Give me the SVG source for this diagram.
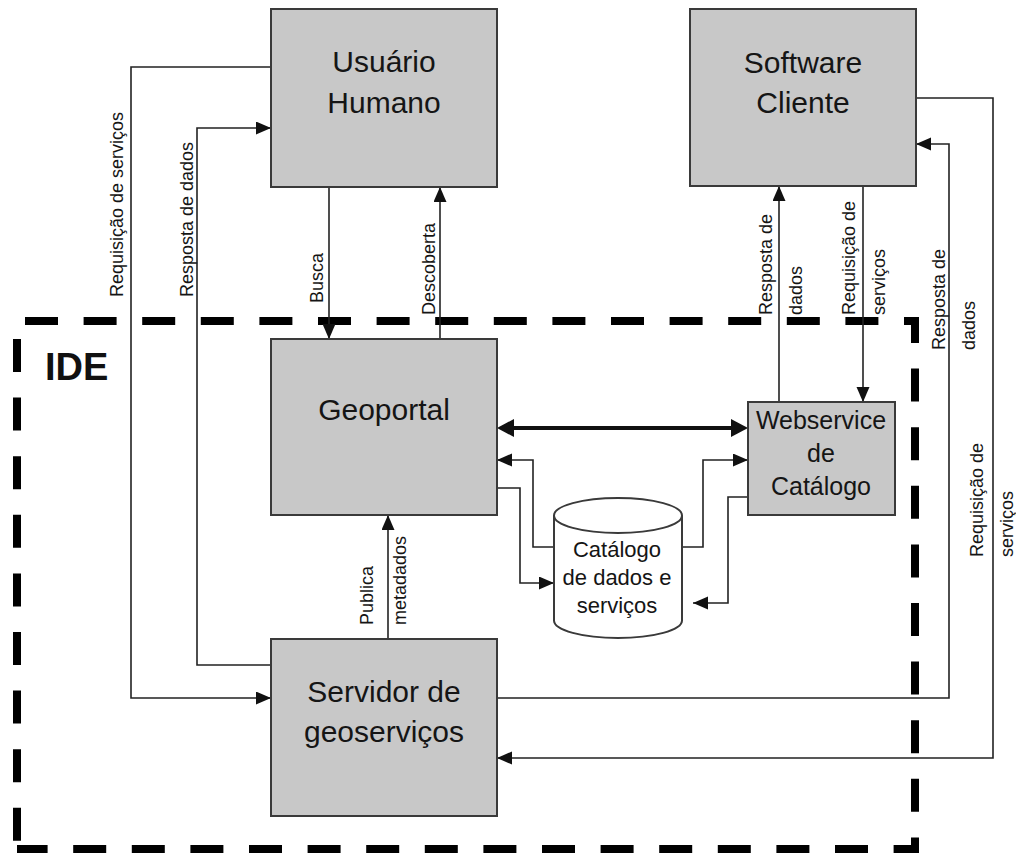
<svg xmlns="http://www.w3.org/2000/svg" width="1016" height="855" viewBox="0 0 1016 855">
<style>
.box{fill:#c8c8c8;stroke:#3a3a3a;stroke-width:2}
.cyl{fill:#ffffff;stroke:#3a3a3a;stroke-width:2}
.t{font-family:"Liberation Sans",Arial,sans-serif;fill:#151515;text-anchor:middle}
.big{font-size:30px}
.mid{font-size:25px}
.sm{font-size:22px}
.lbl{font-family:"Liberation Sans",Arial,sans-serif;font-size:18px;fill:#151515}
.c{fill:none;stroke:#222;stroke-width:1.6}
.thick{fill:none;stroke:#111;stroke-width:4}
.ide{fill:none;stroke:#000;stroke-width:8;stroke-dasharray:33 25.6;stroke-linejoin:miter}
</style>
<defs>
<marker id="arr" markerUnits="userSpaceOnUse" markerWidth="16" markerHeight="14" refX="15" refY="6.5" orient="auto">
<path d="M0,0 L15,6.5 L0,13 z" fill="#111"/>
</marker>
<marker id="arrBig" markerUnits="userSpaceOnUse" markerWidth="18" markerHeight="18" refX="2" refY="9" orient="auto-start-reverse">
<path d="M0,0 L17,9 L0,18 z" fill="#111"/>
</marker>
</defs>
<rect width="1016" height="855" fill="#ffffff"/>

<g id="ide-boundary">
<path class="ide" d="M17,321 H915 V849 H17" stroke-dashoffset="50.6"/>
<path class="ide" d="M17,321 V849" stroke-dashoffset="40.6"/>
<text x="45" y="380" style="font-family:'Liberation Sans',Arial,sans-serif;font-size:38px;font-weight:bold;fill:#111">IDE</text>
</g>

<g id="connectors">
<!-- Usuario <-> Geoportal -->
<path class="c" d="M329,187 V339" marker-end="url(#arr)"/>
<path class="c" d="M440,339 V187" marker-end="url(#arr)"/>
<!-- Usuario -> Servidor (Requisicao) -->
<path class="c" d="M271,67 H131 V698 H271" marker-end="url(#arr)"/>
<!-- Servidor -> Usuario (Resposta) -->
<path class="c" d="M271,665 H197 V128 H271" marker-end="url(#arr)"/>
<!-- Servidor -> Geoportal (Publica metadados) -->
<path class="c" d="M388,639 V515" marker-end="url(#arr)"/>
<!-- Geoportal <-> Webservice -->
<path class="thick" d="M512,428 H733" marker-start="url(#arrBig)" marker-end="url(#arrBig)"/>
<!-- Catalogo -> Geoportal -->
<path class="c" d="M554,547 H533 V460 H497" marker-end="url(#arr)"/>
<!-- Geoportal -> Catalogo -->
<path class="c" d="M497,488 H520 V583 H554" marker-end="url(#arr)"/>
<!-- Catalogo -> Webservice -->
<path class="c" d="M682,547 H703 V460 H748" marker-end="url(#arr)"/>
<!-- Webservice -> Catalogo -->
<path class="c" d="M748,497 H728 V603 H693" marker-end="url(#arr)"/>
<!-- Webservice <-> Software Cliente -->
<path class="c" d="M779,402 V186" marker-end="url(#arr)"/>
<path class="c" d="M863,186 V402" marker-end="url(#arr)"/>
<!-- Servidor -> Software Cliente (Resposta) -->
<path class="c" d="M497,698 H949 V144 H916" marker-end="url(#arr)"/>
<!-- Software Cliente -> Servidor (Requisicao) -->
<path class="c" d="M916,98 H993 V758 H497" marker-end="url(#arr)"/>

<!-- labels -->
<text class="lbl" transform="translate(123,297) rotate(-90)">Requisição de serviços</text>
<text class="lbl" transform="translate(193,297) rotate(-90)">Resposta de dados</text>
<text class="lbl" transform="translate(323,303) rotate(-90)">Busca</text>
<text class="lbl" transform="translate(435,315) rotate(-90)">Descoberta</text>
<text class="lbl" transform="translate(373,625) rotate(-90)">Publica</text>
<text class="lbl" transform="translate(406,625) rotate(-90)">metadados</text>
<text class="lbl" transform="translate(772,315) rotate(-90)">Resposta de</text>
<text class="lbl" transform="translate(802,315) rotate(-90)">dados</text>
<text class="lbl" transform="translate(855,315) rotate(-90)">Requisição de</text>
<text class="lbl" transform="translate(885,315) rotate(-90)">serviços</text>
<text class="lbl" transform="translate(945,350) rotate(-90)">Resposta de</text>
<text class="lbl" transform="translate(975,350) rotate(-90)">dados</text>
<text class="lbl" transform="translate(983,557) rotate(-90)">Requisição de</text>
<text class="lbl" transform="translate(1013,557) rotate(-90)">serviços</text>
</g>

<g id="usuario-humano">
<rect class="box" x="271" y="9" width="226" height="178"/>
<text class="t big" x="384" y="72">Usuário</text>
<text class="t big" x="384" y="113">Humano</text>
</g>

<g id="software-cliente">
<rect class="box" x="690" y="9" width="226" height="177"/>
<text class="t big" x="803" y="73">Software</text>
<text class="t big" x="803" y="113">Cliente</text>
</g>

<g id="geoportal">
<rect class="box" x="271" y="339" width="226" height="176"/>
<text class="t big" x="384" y="420">Geoportal</text>
</g>

<g id="webservice-catalogo">
<rect class="box" x="748" y="402" width="147" height="113"/>
<text class="t mid" x="821" y="429">Webservice</text>
<text class="t mid" x="821" y="462">de</text>
<text class="t mid" x="821" y="495">Catálogo</text>
</g>

<g id="catalogo-dados">
<path class="cyl" d="M554,515.5 V620.5 A64,17.5 0 0 0 682,620.5 V515.5"/>
<ellipse class="cyl" cx="618" cy="515.5" rx="64" ry="17.5"/>
<text class="t sm" x="617" y="557">Catálogo</text>
<text class="t sm" x="617" y="585">de dados e</text>
<text class="t sm" x="617" y="613">serviços</text>
</g>

<g id="servidor-geoservicos">
<rect class="box" x="271" y="639" width="226" height="177"/>
<text class="t big" x="384" y="702">Servidor de</text>
<text class="t big" x="384" y="742">geoserviços</text>
</g>
</svg>
